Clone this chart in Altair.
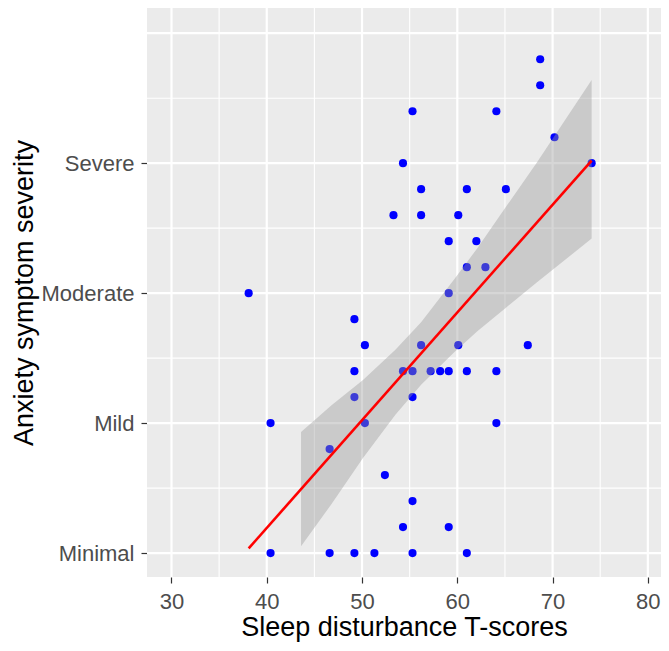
import altair as alt
import pandas as pd

# Scatter data
sleep_t = [38.1, 40.4, 40.4, 46.6, 46.6, 49.2, 49.2, 49.2, 49.2, 50.3, 50.3, 51.3,
           52.4, 53.3, 54.3, 54.3, 54.3, 55.3, 55.3, 55.3, 55.3, 55.3, 56.2, 56.2,
           56.2, 57.2, 58.2, 59.1, 59.1, 59.1, 59.1, 60.1, 60.1, 61.0, 61.0, 61.0,
           61.0, 62.0, 62.95, 64.1, 64.1, 64.1, 65.1, 67.4, 68.7, 68.7, 70.2, 74.1]
anxiety = [10, 5, 0, 4, 0, 9, 7, 6, 0, 8, 5, 0,
           3, 13, 15, 7, 1, 17, 7, 6, 2, 0, 14, 13,
           8, 7, 7, 12, 10, 7, 1, 13, 8, 14, 11, 7,
           0, 12, 11, 17, 7, 5, 14, 8, 19, 18, 16, 15]

# Fitted line and confidence band
line_x = [38.1, 74.1]
line_y = [0.18, 15.1]
ribbon_x = [43.6, 46.8, 50.1, 53.5, 56.2, 59.7, 62.1, 65.2, 68.3, 74.1]
ribbon_hi = [4.66, 5.69, 6.66, 7.82, 8.88, 10.54, 11.73, 13.37, 15.0, 18.2]
ribbon_lo = [0.26, 1.89, 3.66, 5.32, 6.48, 7.74, 8.53, 9.47, 10.4, 12.1]

# Axes
x_major = [30, 40, 50, 60, 70, 80]
x_minor = [35, 45, 55, 65, 75]
y_major = [0, 5, 10, 15, 20]
y_minor = [2.5, 7.5, 12.5, 17.5]
y_tick_values = [0, 5, 10, 15]
y_tick_labels = ["Minimal", "Mild", "Moderate", "Severe"]

X_DOMAIN = [27.43, 81.38]
Y_DOMAIN = [-0.92, 20.97]
FONT = "Liberation Sans"

pts = pd.DataFrame({"x": sleep_t, "y": anxiety})
band = pd.DataFrame({"x": ribbon_x, "lo": ribbon_lo, "hi": ribbon_hi})
fit = pd.DataFrame({"x": line_x, "y": line_y})

label_map = "{" + ",".join(f"'{v}':'{l}'" for v, l in zip(y_tick_values, y_tick_labels)) + "}"

xscale = alt.Scale(domain=X_DOMAIN, nice=False, zero=False)
yscale = alt.Scale(domain=Y_DOMAIN, nice=False, zero=False)

xaxis = alt.Axis(values=x_major, title="Sleep disturbance T-scores", grid=False, domain=False,
                 tickColor="#333333", tickWidth=1.2, tickSize=6, labelPadding=8,
                 labelColor="#4D4D4D", labelFontSize=22, labelFont=FONT,
                 titleFont=FONT, titleFontSize=27, titleFontWeight="normal",
                 titleColor="#000000", titlePadding=2, labelFlush=False)
yaxis = alt.Axis(values=y_tick_values, labelExpr=f"{label_map}[datum.value]",
                 title="Anxiety symptom severity", grid=False, domain=False,
                 tickColor="#333333", tickWidth=1.2, tickSize=6, labelPadding=7,
                 labelColor="#4D4D4D", labelFontSize=22, labelFont=FONT,
                 titleFont=FONT, titleFontSize=27, titleFontWeight="normal",
                 titleColor="#000000", titlePadding=3, labelFlush=False)

def vgrid(vals, w):
    return alt.Chart(pd.DataFrame({"v": vals})).mark_rule(color="white", strokeWidth=w).encode(
        x=alt.X("v:Q", scale=xscale, axis=xaxis))

def hgrid(vals, w):
    return alt.Chart(pd.DataFrame({"v": vals})).mark_rule(color="white", strokeWidth=w).encode(
        y=alt.Y("v:Q", scale=yscale, axis=yaxis))

points = alt.Chart(pts).mark_circle(color="#0000FF", size=66, opacity=1).encode(
    x=alt.X("x:Q", scale=xscale, axis=xaxis),
    y=alt.Y("y:Q", scale=yscale, axis=yaxis),
)

ribbon = alt.Chart(band).mark_area(color="#999999", opacity=0.4).encode(
    x=alt.X("x:Q", scale=xscale, axis=xaxis),
    y=alt.Y("lo:Q", scale=yscale, axis=yaxis),
    y2="hi:Q",
)

line = alt.Chart(fit).mark_line(color="#FF0000", strokeWidth=2.6).encode(
    x=alt.X("x:Q", scale=xscale, axis=xaxis),
    y=alt.Y("y:Q", scale=yscale, axis=yaxis),
)

chart = alt.layer(
    vgrid(x_minor, 1.1), hgrid(y_minor, 1.1),
    vgrid(x_major, 2.2), hgrid(y_major, 2.2),
    points, ribbon, line,
).properties(
    width=514, height=569,
    autosize=alt.AutoSizeParams(type="none"),
    padding={"left": 139, "top": 0, "right": 0, "bottom": 66},
).configure_view(fill="#EBEBEB", stroke=None)

chart.save("out.html", embed_options={"renderer": "svg", "actions": False})
